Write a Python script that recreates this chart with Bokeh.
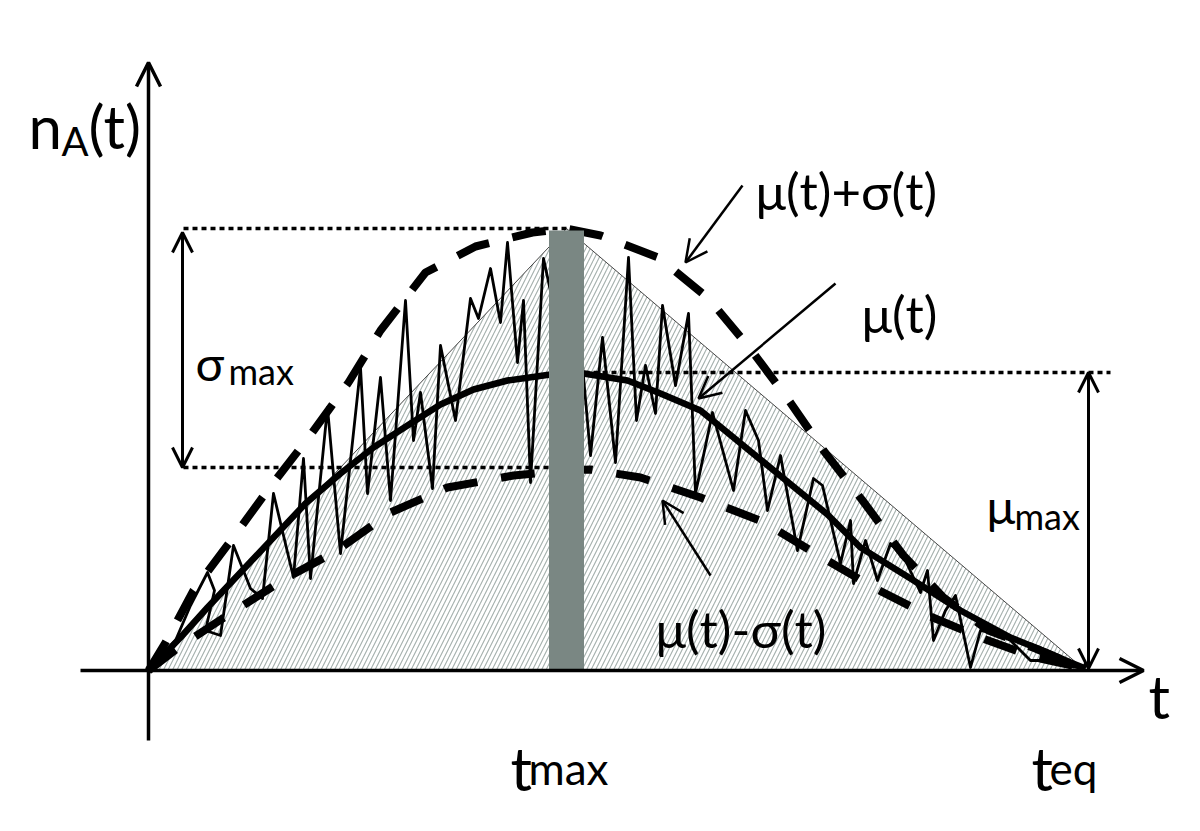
from bokeh.plotting import figure
from bokeh.models import Arrow, OpenHead, Range1d
from bokeh.core.properties import value
from bokeh.embed import file_html
from bokeh.resources import INLINE

# ---- data (arbitrary units: time t, population n) ----
t_max = 4.18
t_eq = 9.37
n_peak = 4.42
mu_max = 2.98
sigma_low = 2.03
bar_half = 0.175

tri_t = [0.0, t_max, t_eq]
tri_n = [0.0, n_peak, 0.0]

mu_t = [0.0, 0.32, 0.59, 0.92, 1.25, 1.57, 1.92, 2.25, 2.59, 2.92, 3.25, 3.59, 4.02, 4.17,
        4.35, 4.79, 5.12, 5.52, 5.85, 6.29, 6.79, 7.12, 7.62, 8.12, 8.62, 8.99, 9.22, 9.37]
mu_n = [0.0, 0.33, 0.63, 0.98, 1.33, 1.67, 1.97, 2.23, 2.45, 2.66, 2.81, 2.90, 2.96, 2.98,
        2.97, 2.90, 2.77, 2.60, 2.33, 1.97, 1.56, 1.23, 0.92, 0.60, 0.33, 0.18, 0.08, 0.02]

up_t = [0.0, 0.17, 0.45, 0.84, 1.19, 1.60, 2.00, 2.32, 2.77, 3.27, 3.84, 4.17, 4.52, 5.10,
        5.60, 6.00, 6.39, 6.75, 7.14, 7.55, 7.95, 8.40, 8.87, 9.15, 9.37]
up_n = [0.0, 0.28, 0.80, 1.32, 1.80, 2.33, 2.88, 3.40, 3.98, 4.24, 4.38, 4.42, 4.35, 4.13,
        3.72, 3.24, 2.72, 2.20, 1.70, 1.15, 0.73, 0.40, 0.22, 0.10, 0.03]

lo_t = [0.0, 0.30, 0.74, 1.37, 1.87, 2.42, 2.99, 3.65, 4.17, 4.42, 4.92, 5.52, 6.14, 6.67,
        7.25, 7.82, 8.37, 8.87, 9.37]
lo_n = [0.0, 0.23, 0.52, 0.92, 1.19, 1.58, 1.83, 1.95, 2.00, 2.01, 1.93, 1.73, 1.49, 1.17,
        0.83, 0.54, 0.31, 0.13, 0.02]

noise_t = [0.02, 0.27, 0.42, 0.59, 0.66, 0.57, 0.72, 0.85, 1.02, 1.14, 1.25, 1.45, 1.55, 1.62,
           1.79, 1.92, 2.12, 2.19, 2.32, 2.42, 2.57, 2.65, 2.72, 2.84, 2.92, 3.07, 3.22, 3.30,
           3.42, 3.52, 3.59, 3.69, 3.75, 3.82, 3.95, 4.04, 4.30, 4.42, 4.54, 4.67, 4.80, 4.88,
           4.97, 5.07, 5.14, 5.27, 5.40, 5.47, 5.64, 5.85, 5.97, 6.10, 6.19, 6.32, 6.49, 6.65,
           6.74, 6.92, 7.02, 7.05, 7.17, 7.29, 7.42, 7.57, 7.72, 7.79, 7.85, 7.97, 8.07, 8.22,
           8.32, 8.45, 8.62, 8.82, 9.02, 9.22, 9.37]
noise_n = [0.04, 0.30, 0.65, 0.98, 0.80, 0.40, 0.35, 1.25, 0.82, 0.72, 1.77, 0.93, 2.12, 0.92,
           2.63, 1.17, 3.03, 1.77, 2.93, 1.70, 3.70, 2.30, 2.78, 1.82, 3.25, 2.50, 3.72, 3.52,
           4.02, 3.48, 4.28, 3.08, 3.70, 1.88, 4.12, 3.70, 3.50, 2.15, 3.33, 2.08, 4.13, 2.50,
           3.05, 2.57, 3.65, 2.85, 3.57, 1.77, 2.58, 1.80, 2.60, 2.30, 1.60, 2.15, 1.20, 1.92,
           1.85, 1.07, 1.50, 0.87, 1.30, 0.90, 1.27, 1.10, 0.78, 1.00, 0.30, 0.60, 0.75, 0.03,
           0.40, 0.38, 0.30, 0.10, 0.10, 0.04, 0.02]

FONT = value("Lato")

p = figure(width=1184, height=815, output_backend="svg", toolbar_location=None,
           x_range=Range1d(-1.48, 10.36), y_range=Range1d(-1.45, 6.70),
           min_border=0, outline_line_color=None, background_fill_color="white")
p.xaxis.visible = False
p.yaxis.visible = False
p.xgrid.visible = False
p.ygrid.visible = False

# hatched triangle
p.patch(tri_t, tri_n, fill_color="white", hatch_pattern="/", hatch_color="#a3afac",
        hatch_scale=9, hatch_weight=1.1, line_color="#444444", line_width=1)

# mean +/- sigma dashed
p.line(up_t, up_n, line_color="black", line_width=8, line_dash="34 24")
p.line(lo_t, lo_n, line_color="black", line_width=8, line_dash="34 24")
# noisy trajectory
p.line(noise_t, noise_n, line_color="black", line_width=2.8, line_join="round")
# mean
p.line(mu_t, mu_n, line_color="black", line_width=6.5, line_join="round")

# dotted guide lines
p.line([0.35, t_max], [n_peak, n_peak], line_color="black", line_width=3.5, line_dash="5 4")
p.line([0.35, t_max], [sigma_low, sigma_low], line_color="black", line_width=3.5, line_dash="5 4")
p.line([t_max, 9.62], [mu_max, mu_max], line_color="black", line_width=3.5, line_dash="5 4")

# grey bar at t_max
p.quad(left=[t_max - bar_half], right=[t_max + bar_half], bottom=[0], top=[4.40],
       fill_color="#7a8783", line_color=None)

# axes with arrowheads
p.add_layout(Arrow(end=OpenHead(size=24, line_width=3.5), x_start=-0.68, y_start=0, x_end=9.95, y_end=0,
                   line_width=3.5))
p.add_layout(Arrow(end=OpenHead(size=24, line_width=3.5), x_start=0, y_start=-0.70, x_end=0, y_end=6.08,
                   line_width=3.5))

# double arrows
p.add_layout(Arrow(start=OpenHead(size=20, line_width=3), end=OpenHead(size=20, line_width=3),
                   x_start=0.34, y_start=n_peak - 0.04, x_end=0.34, y_end=sigma_low, line_width=3))
p.add_layout(Arrow(start=OpenHead(size=20, line_width=3), end=OpenHead(size=20, line_width=3),
                   x_start=9.40, y_start=mu_max, x_end=9.40, y_end=0.02, line_width=3))

# label pointer arrows
p.add_layout(Arrow(end=OpenHead(size=22, line_width=2.5), x_start=5.94, y_start=4.85, x_end=5.37, y_end=4.08,
                   line_width=2.5))
p.add_layout(Arrow(end=OpenHead(size=22, line_width=2.5), x_start=6.87, y_start=3.87, x_end=5.50, y_end=2.72,
                   line_width=2.5))
p.add_layout(Arrow(end=OpenHead(size=22, line_width=2.5), x_start=5.62, y_start=0.95, x_end=5.14, y_end=1.70,
                   line_width=2.5))

def label(x, y, s, size):
    p.text(x=[x], y=[y], text=[s], text_font=FONT, text_font_size=size,
           text_color="black", text_baseline="alphabetic", text_align="left")

label(6.07, 4.80, "μ(t)+σ(t)", "51px")
label(7.13, 3.57, "μ(t)", "51px")
label(5.07, 0.42, "μ(t)-σ(t)", "51px")
label(0.47, 3.08, "σ", "48px")
label(0.80, 3.00, "max", "36px")
label(8.38, 1.65, "μ", "48px")
label(8.66, 1.55, "max", "36px")
label(-1.20, 5.45, "n", "60px")
label(-0.87, 5.30, "A", "40px")
label(-0.60, 5.45, "(t)", "60px")
label(10.00, -0.25, "t", "60px")
label(3.62, -0.97, "t", "60px")
label(3.80, -0.97, "max", "44px")
label(8.83, -0.97, "t", "60px")
label(9.01, -0.97, "eq", "44px")

open("out.html", "w").write(file_html(p, INLINE))
